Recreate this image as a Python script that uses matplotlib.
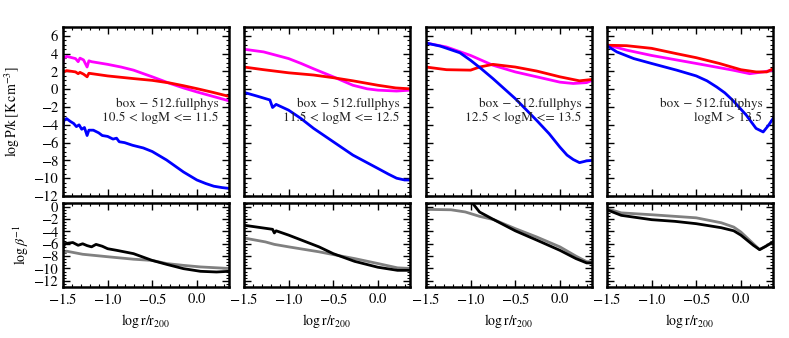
import numpy as np
import matplotlib.pyplot as plt
from matplotlib.ticker import MultipleLocator

plt.rcParams['mathtext.fontset'] = 'stix'
plt.rcParams['font.family'] = 'STIXGeneral'
plt.rcParams['font.size'] = 10

box_label = 'box \u2212 512.fullphys'
mass_labels = ['10.5 < logM <= 11.5',
               '11.5 < logM <= 12.5',
               '12.5 < logM <= 13.5',
               'logM > 13.5']

# pressure profiles (log P/k) : x, magenta, red, blue
p1_mag_x = [-1.5, -1.49, -1.46, -1.36, -1.33, -1.31, -1.27, -1.23, -1.21, -1.18, -1.0, -0.85, -0.71, -0.5, -0.3, -0.15, 0.0, 0.18, 0.36]
p1_mag_y = [3.1, 3.5, 3.7, 3.45, 3.1, 3.5, 3.3, 2.5, 3.2, 3.1, 2.8, 2.5, 2.15, 1.4, 0.65, 0.15, -0.3, -0.8, -1.3]
p1_red_x = [-1.5, -1.46, -1.36, -1.33, -1.31, -1.27, -1.23, -1.21, -1.0, -0.71, -0.5, -0.3, -0.15, 0.0, 0.18, 0.36]
p1_red_y = [1.9, 2.1, 1.95, 1.75, 1.9, 1.7, 1.4, 1.8, 1.5, 1.2, 1.0, 0.7, 0.4, 0.07, -0.35, -0.8]
p1_blu_x = [-1.5, -1.49, -1.46, -1.42, -1.38, -1.35, -1.32, -1.29, -1.26, -1.23, -1.21, -1.16, -1.1, -1.06, -1.0,
            -0.94, -0.9, -0.87, -0.81, -0.72, -0.6, -0.5, -0.34, -0.15, 0.0, 0.1, 0.19, 0.28, 0.36]
p1_blu_y = [-4.4, -3.5, -3.3, -3.6, -3.85, -4.2, -4.0, -4.5, -4.3, -5.2, -4.6, -4.6, -4.9, -5.2, -5.3,
            -5.6, -5.5, -5.9, -6.0, -6.3, -6.6, -7.0, -7.95, -9.3, -10.2, -10.6, -10.9, -11.05, -11.15]

p2_mag_x = [-1.5, -1.28, -1.0, -0.86, -0.72, -0.5, -0.28, -0.12, 0.0, 0.21, 0.36]
p2_mag_y = [4.5, 4.2, 3.45, 2.9, 2.3, 1.4, 0.45, 0.05, -0.1, -0.2, -0.1]
p2_red_x = [-1.5, -1.28, -1.0, -0.72, -0.5, -0.28, 0.0, 0.2, 0.36]
p2_red_y = [2.5, 2.2, 1.85, 1.6, 1.3, 0.95, 0.45, 0.15, 0.05]
p2_blu_x = [-1.5, -1.36, -1.21, -1.18, -1.14, -1.0, -0.86, -0.72, -0.5, -0.28, 0.0, 0.12, 0.21, 0.3, 0.36]
p2_blu_y = [-0.35, -0.75, -1.2, -2.05, -1.7, -2.35, -3.3, -4.4, -5.9, -7.4, -8.9, -9.55, -10.0, -10.2, -10.2]

p3_mag_x = [-1.5, -1.27, -1.0, -0.75, -0.5, -0.26, 0.0, 0.15, 0.3, 0.36]
p3_mag_y = [5.2, 4.75, 3.8, 2.7, 1.95, 1.4, 0.8, 0.65, 0.75, 1.0]
p3_red_x = [-1.5, -1.27, -1.0, -0.9, -0.75, -0.5, -0.26, 0.0, 0.22, 0.36]
p3_red_y = [2.5, 2.2, 2.15, 2.5, 2.8, 2.5, 2.05, 1.4, 0.95, 1.1]
p3_blu_x = [-1.5, -1.34, -1.12, -1.0, -0.88, -0.75, -0.5, -0.26, -0.12, 0.0, 0.08, 0.15, 0.22, 0.3, 0.36]
p3_blu_y = [5.2, 4.85, 4.1, 3.25, 2.3, 1.2, -1.05, -3.5, -5.0, -6.5, -7.4, -7.9, -8.25, -8.05, -8.0]

p4_mag_x = [-1.5, -1.28, -1.0, -0.5, -0.09, 0.1, 0.25, 0.36]
p4_mag_y = [5.0, 4.4, 3.8, 2.9, 2.15, 1.75, 1.95, 2.15]
p4_red_x = [-1.5, -1.28, -1.0, -0.72, -0.5, -0.24, 0.0, 0.17, 0.29, 0.36]
p4_red_y = [4.95, 4.9, 4.6, 4.0, 3.55, 2.9, 2.2, 1.95, 1.95, 2.3]
p4_blu_x = [-1.5, -1.39, -1.2, -1.0, -0.72, -0.5, -0.38, -0.27, -0.18, -0.09, 0.06, 0.17, 0.25, 0.31, 0.36]
p4_blu_y = [4.9, 4.2, 3.45, 2.9, 2.15, 1.5, 0.95, 0.25, -0.4, -1.25, -2.9, -4.4, -4.8, -4.05, -3.3]

# log beta^-1 profiles : black, gray
b1_blk_x = [-1.5, -1.48, -1.39, -1.33, -1.28, -1.23, -1.18, -1.13, -1.06, -1.0, -0.9, -0.71, -0.5, -0.34, -0.15, 0.04, 0.22, 0.36]
b1_blk_y = [-6.8, -5.98, -5.8, -6.25, -6.0, -6.3, -6.5, -6.1, -6.4, -6.8, -7.06, -7.6, -8.7, -9.33, -10.03, -10.46, -10.57, -10.46]
b1_gry_x = [-1.5, -1.46, -1.28, -1.0, -0.71, -0.5, -0.34, -0.15, 0.04, 0.36]
b1_gry_y = [-7.6, -7.2, -7.7, -8.1, -8.5, -8.7, -9.2, -9.5, -9.75, -10.0]

b2_blk_x = [-1.5, -1.18, -1.16, -1.14, -1.0, -0.66, -0.5, -0.26, 0.0, 0.22, 0.36]
b2_blk_y = [-3.0, -3.66, -4.25, -3.9, -4.6, -6.5, -7.6, -8.85, -9.8, -10.3, -10.3]
b2_gry_x = [-1.5, -1.26, -1.16, -1.0, -0.66, -0.5, -0.26, 0.0, 0.22, 0.36]
b2_gry_y = [-5.07, -5.7, -6.1, -6.5, -7.3, -7.75, -8.4, -9.2, -9.9, -10.0]

b3_blk_x = [-1.5, -1.25, -1.05, -0.98, -0.9, -0.74, -0.5, -0.26, 0.0, 0.18, 0.3, 0.36]
b3_blk_y = [4.0, 2.2, 1.0, 0.6, -0.86, -2.1, -3.9, -5.4, -7.06, -8.4, -9.1, -9.1]
b3_gry_x = [-1.5, -1.22, -1.06, -0.9, -0.74, -0.5, -0.26, 0.0, 0.18, 0.3, 0.36]
b3_gry_y = [-0.43, -0.5, -0.85, -1.56, -2.1, -3.55, -4.9, -6.5, -8.0, -8.9, -8.9]

b4_blk_x = [-1.5, -1.34, -1.0, -0.74, -0.5, -0.22, -0.08, 0.0, 0.14, 0.21, 0.28, 0.36]
b4_blk_y = [-0.5, -1.4, -2.1, -2.37, -2.75, -3.4, -3.9, -4.6, -6.25, -6.95, -6.4, -5.7]
b4_gry_x = [-1.5, -1.34, -1.0, -0.74, -0.5, -0.22, -0.08, 0.0, 0.14, 0.21, 0.28, 0.36]
b4_gry_y = [-0.32, -1.0, -1.3, -1.56, -1.8, -2.6, -3.3, -4.1, -6.0, -6.95, -6.4, -5.7]

top_data = [
    (p1_mag_x, p1_mag_y, p1_red_x, p1_red_y, p1_blu_x, p1_blu_y),
    (p2_mag_x, p2_mag_y, p2_red_x, p2_red_y, p2_blu_x, p2_blu_y),
    (p3_mag_x, p3_mag_y, p3_red_x, p3_red_y, p3_blu_x, p3_blu_y),
    (p4_mag_x, p4_mag_y, p4_red_x, p4_red_y, p4_blu_x, p4_blu_y),
]
bot_data = [
    (b1_blk_x, b1_blk_y, b1_gry_x, b1_gry_y),
    (b2_blk_x, b2_blk_y, b2_gry_x, b2_gry_y),
    (b3_blk_x, b3_blk_y, b3_gry_x, b3_gry_y),
    (b4_blk_x, b4_blk_y, b4_gry_x, b4_gry_y),
]


def style(ax):
    ax.tick_params(which='both', direction='in', top=True, right=True, labelsize=10.5)
    ax.tick_params(which='major', length=5, width=1)
    ax.tick_params(which='minor', length=2.5, width=0.8)
    for s in ax.spines.values():
        s.set_linewidth(1.8)
    ax.set_xlim(-1.5, 0.36)
    ax.xaxis.set_major_locator(MultipleLocator(0.5))
    ax.xaxis.set_minor_locator(MultipleLocator(0.1))
    ax.yaxis.set_major_locator(MultipleLocator(2))
    ax.yaxis.set_minor_locator(MultipleLocator(0.5))


fig = plt.figure(figsize=(7.89, 3.38), dpi=100)
W, H = 789.0, 338.0
lefts = [63, 244, 426, 607]
pw = 166
for i in range(4):
    ax = fig.add_axes([lefts[i] / W, (H - 196) / H, pw / W, 169 / H])
    mx, my, rx, ry, bx, by = top_data[i]
    ax.plot(mx, my, color='#ff00ff', lw=2)
    ax.plot(rx, ry, color='#ff0000', lw=2)
    ax.plot(bx, by, color='#0000ff', lw=2)
    style(ax)
    ax.set_ylim(-12, 7)
    ax.set_xticklabels([])
    ax.text(0.935, 0.545, box_label, transform=ax.transAxes,
            ha='right', va='center', fontsize=9.5, color='#222222')
    ax.text(0.935, 0.465, mass_labels[i], transform=ax.transAxes,
            ha='right', va='center', fontsize=9.5, color='#222222')
    if i == 0:
        ax.set_ylabel(r'$\log\mathrm{P/k}\,[\mathrm{K\,cm^{-3}}]$', fontsize=10, labelpad=8)
    else:
        ax.set_yticklabels([])

    bx_ = fig.add_axes([lefts[i] / W, (H - 287) / H, pw / W, 84 / H])
    kx, ky, gx, gy = bot_data[i]
    bx_.plot(gx, gy, color='#808080', lw=2)
    bx_.plot(kx, ky, color='black', lw=2)
    style(bx_)
    bx_.set_ylim(-13, 0.6)
    bx_.set_xticks([-1.5, -1.0, -0.5, 0.0])
    bx_.set_xticklabels([r'$-1.5$', r'$-1.0$', r'$-0.5$', r'$0.0$'])
    bx_.set_xlabel(r'$\log\mathrm{r/r_{200}}$', fontsize=10)
    if i == 0:
        bx_.set_ylabel(r'$\log\beta^{-1}$', fontsize=10, labelpad=2)
    else:
        bx_.set_yticklabels([])

fig.savefig('out.png', dpi=100)
